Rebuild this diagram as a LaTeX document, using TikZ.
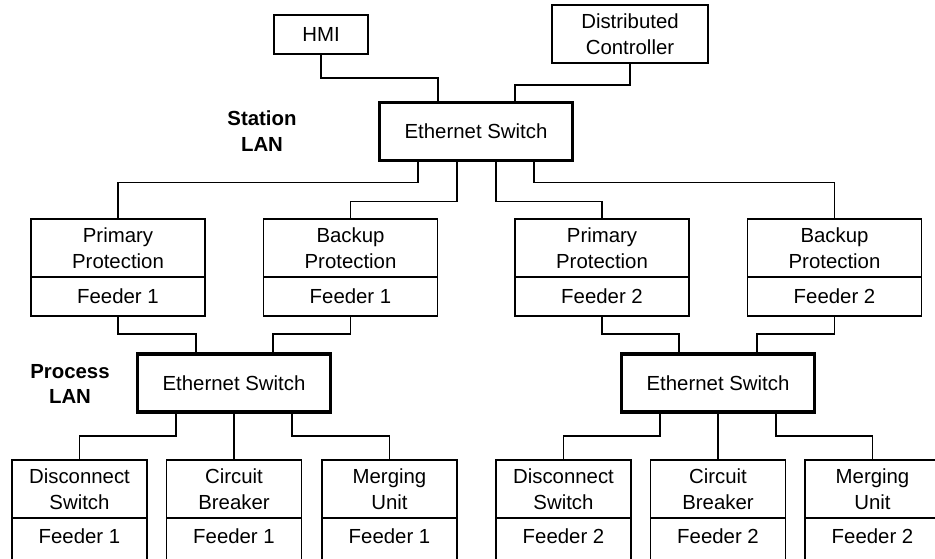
\documentclass[tikz,border=0pt]{standalone}
\usepackage{fontspec}
\setmainfont{Liberation Sans}
\usetikzlibrary{positioning,calc}

\begin{document}
\begin{tikzpicture}[x=0.02cm, y=-0.02cm,
    every node/.style={font=\fontsize{11.6}{14.6}\selectfont, align=center, inner sep=0pt, outer sep=0pt},
    unit/.style={draw, line width=1.1pt, minimum width=3.48cm, minimum height=1.16cm},
    feed/.style={draw, line width=1.1pt, minimum width=3.48cm, minimum height=0.78cm},
    dev/.style={unit, minimum width=2.7cm},
    devfeed/.style={feed, minimum width=2.7cm, minimum height=0.88cm, text depth=0.16cm},
    switch/.style={draw, line width=1.8pt, minimum width=3.86cm, minimum height=1.16cm},
    lan/.style={font=\fontsize{11.6}{14.6}\selectfont\bfseries},
    wire/.style={line width=1pt}]
    \useasboundingbox (0,0) rectangle (935,558);
    \clip (0,0) rectangle (935,558);

    % station level
    \node[draw, line width=1.1pt, minimum width=1.88cm, minimum height=0.78cm] (hmi) at (321,34.5) {HMI};
    \node[unit, minimum width=3.12cm] (dc) at (630,34) {Distributed\\Controller};
    \node[switch] (sw0) at (476,131.5) {Ethernet Switch};
    \node[lan] (stationlan) at (262,131) {Station\\LAN};

    % protection relays
    \node[unit] (pp1) at (118,248) {Primary\\Protection};
        \node[feed, below=0cm of pp1] (pp1f) {Feeder 1};
    \node[unit] (bp1) at (350.5,248) {Backup\\Protection};
        \node[feed, below=0cm of bp1] (bp1f) {Feeder 1};
    \node[unit] (pp2) at (602,248) {Primary\\Protection};
        \node[feed, below=0cm of pp2] (pp2f) {Feeder 2};
    \node[unit] (bp2) at (834.5,248) {Backup\\Protection};
        \node[feed, below=0cm of bp2] (bp2f) {Feeder 2};

    % process level
    \node[switch] (sw1) at (234,383) {Ethernet Switch};
    \node[switch] (sw2) at (718,383) {Ethernet Switch};
    \node[lan] (processlan) at (70,384) {Process\\LAN};

    \node[dev] (ds1) at (79.5,489) {Disconnect\\Switch};
        \node[devfeed, below=0cm of ds1] (ds1f) {Feeder 1};
    \node[dev] (cb1) at (234,489) {Circuit\\Breaker};
        \node[devfeed, below=0cm of cb1] (cb1f) {Feeder 1};
    \node[dev] (mu1) at (389.5,489) {Merging\\Unit};
        \node[devfeed, below=0cm of mu1] (mu1f) {Feeder 1};
    \node[dev] (ds2) at (563.5,489) {Disconnect\\Switch};
        \node[devfeed, below=0cm of ds2] (ds2f) {Feeder 2};
    \node[dev] (cb2) at (718,489) {Circuit\\Breaker};
        \node[devfeed, below=0cm of cb2] (cb2f) {Feeder 2};
    \node[dev] (mu2) at (872.5,489) {Merging\\Unit};
        \node[devfeed, below=0cm of mu2] (mu2f) {Feeder 2};

    % station bus
    \draw[wire] (hmi.south) -- ++(0,24) -| ($(sw0.north)+(-38,0)$);
    \draw[wire] (dc.south) -- ++(0,22) -| ($(sw0.north)+(39,0)$);
    \draw[wire] ($(sw0.south)+(-58,0)$) -- ++(0,22) -| (pp1.north);
    \draw[wire] ($(sw0.south)+(-19,0)$) -- ++(0,41) -| (bp1.north);
    \draw[wire] ($(sw0.south)+(20,0)$) -- ++(0,41) -| (pp2.north);
    \draw[wire] ($(sw0.south)+(58,0)$) -- ++(0,22) -| (bp2.north);

    % process bus, feeder 1
    \draw[wire] (pp1f.south) -- ++(0,18) -| ($(sw1.north)+(-38,0)$);
    \draw[wire] (bp1f.south) -- ++(0,18) -| ($(sw1.north)+(39,0)$);
    \draw[wire] ($(sw1.south)+(-58,0)$) -- ++(0,24) -| (ds1.north);
    \draw[wire] (sw1.south) -- (cb1.north);
    \draw[wire] ($(sw1.south)+(58,0)$) -- ++(0,24) -| (mu1.north);

    % process bus, feeder 2
    \draw[wire] (pp2f.south) -- ++(0,18) -| ($(sw2.north)+(-39,0)$);
    \draw[wire] (bp2f.south) -- ++(0,18) -| ($(sw2.north)+(39,0)$);
    \draw[wire] ($(sw2.south)+(-58,0)$) -- ++(0,24) -| (ds2.north);
    \draw[wire] (sw2.south) -- (cb2.north);
    \draw[wire] ($(sw2.south)+(58,0)$) -- ++(0,24) -| (mu2.north);
\end{tikzpicture}
\end{document}
